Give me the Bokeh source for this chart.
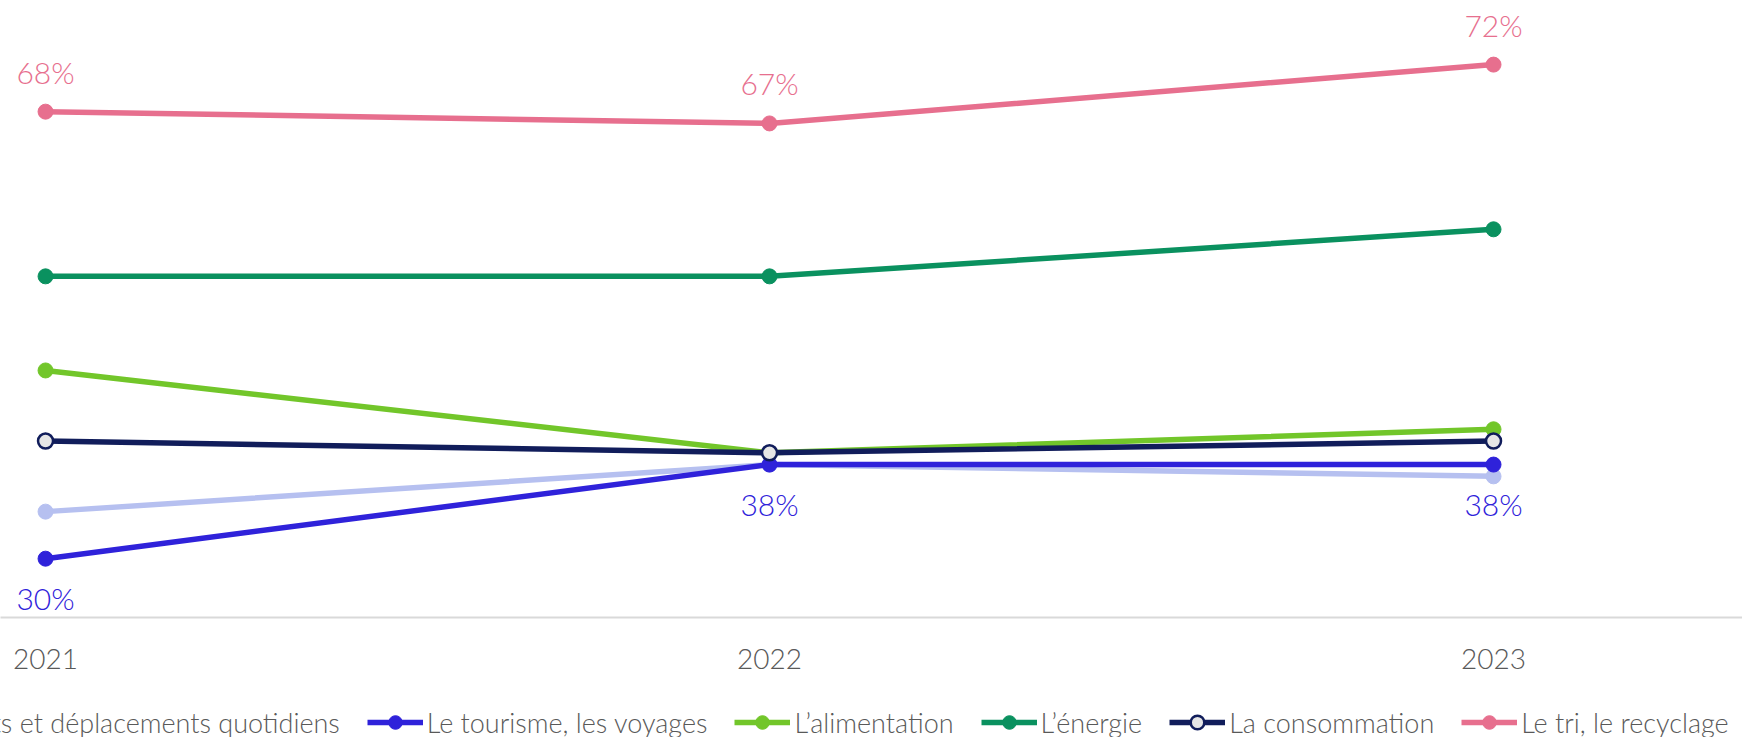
from bokeh.plotting import figure
from bokeh.layouts import column
from bokeh.models import ColumnDataSource, Legend, LegendItem, Range1d, FixedTicker
from bokeh.core.properties import value
from bokeh.embed import file_html
from bokeh.resources import INLINE

# ---- data ----
years = [2021, 2022, 2023]
year_labels = ["2021", "2022", "2023"]
transports = [34, 38, 37]
tourisme = [30, 38, 38]
alimentation = [46, 39, 41]
energie = [54, 54, 58]
consommation = [40, 39, 40]
tri = [68, 67, 72]

series_names = [
    "Les transports et déplacements quotidiens",
    "Le tourisme, les voyages",
    "L\u2019alimentation",
    "L\u2019énergie",
    "La consommation",
    "Le tri, le recyclage",
]
series_values = [transports, tourisme, alimentation, energie, consommation, tri]
colors = ["#B6C0F0", "#2F22DA", "#72C62A", "#0A915F", "#111D5B", "#E76F8E"]
NAVY = "#111D5B"

FONT = "Lato Light"

p = figure(width=1742, height=686, output_backend="svg", toolbar_location=None,
           x_range=Range1d(2020.9378, 2023.3439), y_range=Range1d(25, 77.45),
           min_border_left=0, min_border_right=0, min_border_top=0, min_border_bottom=69,
           y_axis_location=None)
p.outline_line_color = None
p.xgrid.visible = False
p.ygrid.visible = False
p.background_fill_color = "white"
p.border_fill_color = "white"

xa = p.xaxis[0]
xa.ticker = FixedTicker(ticks=years)
xa.major_label_overrides = {y: s for y, s in zip(years, year_labels)}
xa.axis_line_color = "#D9D9D9"
xa.axis_line_width = 2
xa.major_tick_line_color = None
xa.minor_tick_line_color = None
xa.major_label_text_font = FONT
xa.major_label_text_font_size = "28px"
xa.major_label_text_color = "#595959"
xa.major_label_standoff = 25

# legend-only figure (data lies outside its ranges, only the legend shows)
lg = figure(width=1742, height=51, output_backend="svg", toolbar_location=None,
            x_range=Range1d(0, 1), y_range=Range1d(0, 1),
            min_border_left=0, min_border_right=0, min_border_top=0, min_border_bottom=0,
            x_axis_location=None, y_axis_location=None)
lg.outline_line_color = None
lg.xgrid.visible = False
lg.ygrid.visible = False

def draw(fig, vals, col):
    src = ColumnDataSource(dict(x=years, y=vals))
    lr = fig.line("x", "y", source=src, line_color=col, line_width=5.5)
    if col == NAVY:
        sr = fig.scatter("x", "y", source=src, size=15, fill_color="#E6E6E6",
                         line_color=col, line_width=2.5)
    else:
        sr = fig.scatter("x", "y", source=src, size=15, fill_color=col, line_color=col)
    return lr, sr

items = []
for name, vals, col in zip(series_names, series_values, colors):
    draw(p, vals, col)
    lr, sr = draw(lg, vals, col)
    items.append(LegendItem(label=name, renderers=[lr, sr]))

# data labels
tri_src = ColumnDataSource(dict(x=years, y=tri, t=[f"{v}%" for v in tri]))
p.text("x", "y", text="t", source=tri_src, y_offset=-40, text_align="center",
       text_baseline="middle", text_color="#E76F8E", text_font=value(FONT),
       text_font_size="30px")
tou_src = ColumnDataSource(dict(x=years, y=tourisme, t=[f"{v}%" for v in tourisme]))
p.text("x", "y", text="t", source=tou_src, y_offset=39, text_align="center",
       text_baseline="middle", text_color="#2F22DA", text_font=value(FONT),
       text_font_size="30px")

legend = Legend(items=items, orientation="horizontal", location=(-211, -2),
                label_text_font=FONT, label_text_font_size="27px",
                label_text_color="#595959", glyph_width=56, glyph_height=34,
                label_standoff=4, spacing=27, padding=0, margin=0,
                border_line_color=None, background_fill_alpha=0)
lg.add_layout(legend, "center")

layout = column(p, lg, spacing=0)
open("out.html", "w").write(file_html(layout, INLINE))
